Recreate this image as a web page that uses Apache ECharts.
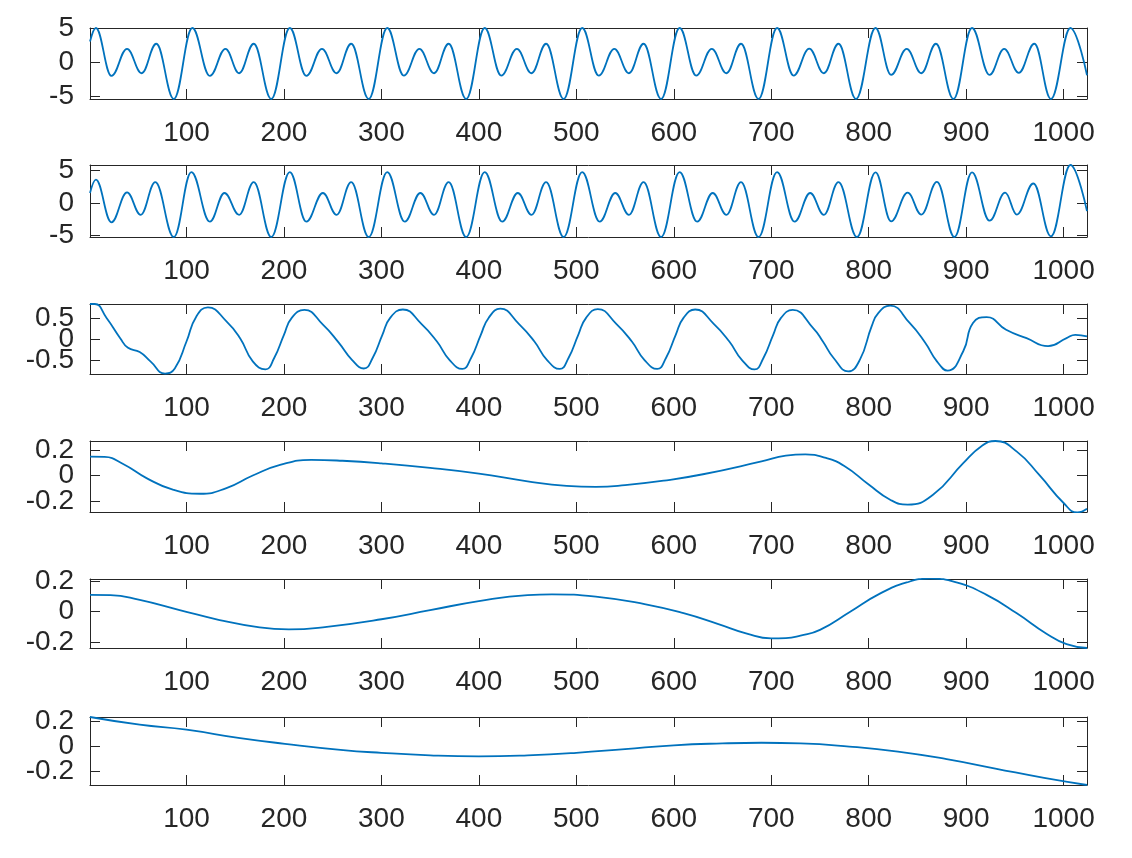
<!DOCTYPE html>
<html>
<head>
<meta charset="utf-8">
<title>IMF</title>
<script src="https://cdn.jsdelivr.net/npm/echarts@6.0.0/dist/echarts.min.js"></script>
<style>
    html, body {margin: 0; padding: 0; background: #fff;}
    #main {width: 1132px; height: 858px;}
</style>
</head>
<body>
<div id="main"></div>
<script>
// x range and ticks, shared by all six panels
var xStart = 1;
var xEnd = 1024;
var xTicks = [100, 200, 300, 400, 500, 600, 700, 800, 900, 1000];

// y limits and ticks of each panel (top to bottom)
var yMin = [-5.45, -5.2, -0.83, -0.284, -0.24, -0.306];
var yMax = [5.0, 5.84, 0.83, 0.269, 0.216, 0.235];
var yTicks = [[-5, 0, 5], [-5, 0, 5], [-0.5, 0, 0.5], [-0.2, 0, 0.2], [-0.2, 0, 0.2], [-0.2, 0, 0.2]];

// panel 1 : peaks and troughs
var imf1 = [
    [1, 3.0], [7, 5.0], [23, -2.05], [39, 1.94], [54, -1.66], [69, 2.68], [87, -5.45],
    [106, 5.0], [124, -2.05], [140, 1.94], [154, -1.66], [169, 2.68], [187, -5.45],
    [206, 5.0], [223, -2.05], [239, 1.94], [254, -1.66], [269, 2.68], [287, -5.45],
    [306, 5.0], [323, -2.0], [339, 1.94], [354, -1.66], [369, 2.68], [387, -5.45],
    [406, 5.0], [423, -2.0], [439, 1.94], [454, -1.66], [469, 2.68], [487, -5.45],
    [506, 5.0], [523, -2.0], [539, 1.94], [554, -1.66], [569, 2.68], [587, -5.45],
    [606, 5.0], [623, -2.0], [639, 1.94], [654, -1.66], [669, 2.68], [687, -5.45],
    [706, 5.0], [723, -2.0], [739, 1.96], [754, -1.66], [769, 2.68], [787, -5.45],
    [807, 5.0], [823, -1.9], [839, 1.94], [854, -1.66], [869, 2.68], [887, -5.45],
    [906, 5.0], [924, -1.9], [939, 1.94], [954, -1.6], [970, 2.68], [987, -5.45],
    [1007, 5.0], [1024, -1.95]
];
// panel 2
var imf2 = [
    [1, 1.55], [7, 3.6], [23, -2.95], [39, 1.65], [53, -1.8], [68, 3.2], [87, -5.2],
    [105, 4.75], [124, -2.85], [139, 1.55], [154, -1.8], [169, 3.2], [187, -5.2],
    [206, 4.75], [223, -2.85], [240, 1.55], [254, -1.8], [269, 3.2], [287, -5.2],
    [306, 4.75], [324, -2.85], [340, 1.55], [354, -1.8], [369, 3.2], [387, -5.2],
    [406, 4.75], [424, -2.85], [440, 1.55], [454, -1.8], [469, 3.2], [487, -5.2],
    [506, 4.75], [524, -2.85], [540, 1.55], [554, -1.8], [569, 3.2], [587, -5.2],
    [606, 4.75], [624, -2.85], [640, 1.55], [654, -1.8], [669, 3.2], [687, -5.2],
    [706, 4.75], [724, -2.85], [740, 1.55], [754, -1.8], [769, 3.2], [788, -5.2],
    [807, 4.7], [823, -2.8], [840, 1.6], [854, -1.76], [870, 3.25], [888, -5.2],
    [906, 4.7], [924, -2.7], [940, 1.6], [952, -1.76], [969, 3.0], [987, -5.1],
    [1007, 5.84], [1024, -1.24]
];
// panel 3
var imf3 = [
    [1, 0.83], [6, 0.83], [18, 0.5], [32, 0.02], [40, -0.21], [52, -0.31], [63, -0.53], [78, -0.82],
    [88, -0.7], [100, -0.06], [110, 0.53], [122, 0.75], [141, 0.42], [155, 0.02], [168, -0.53], [181, -0.72],
    [190, -0.45], [200, 0.1], [208, 0.5], [221, 0.69], [240, 0.34], [256, -0.08], [270, -0.5], [282, -0.7],
    [291, -0.45], [301, 0.1], [309, 0.5], [322, 0.7], [341, 0.36], [357, -0.06], [370, -0.5], [383, -0.71],
    [392, -0.45], [402, 0.1], [410, 0.5], [422, 0.72], [441, 0.36], [457, -0.06], [470, -0.5], [483, -0.71],
    [492, -0.45], [502, 0.1], [510, 0.5], [522, 0.71], [541, 0.36], [557, -0.06], [570, -0.5], [583, -0.71],
    [592, -0.45], [602, 0.1], [610, 0.5], [622, 0.7], [641, 0.36], [657, -0.06], [670, -0.5], [683, -0.72],
    [692, -0.45], [702, 0.1], [710, 0.5], [722, 0.69], [743, 0.26], [753, -0.06], [764, -0.45], [779, -0.77],
    [791, -0.49], [803, 0.3], [810, 0.62], [822, 0.79], [842, 0.38], [858, -0.09], [870, -0.53], [881, -0.75],
    [897, -0.29], [907, 0.38], [921, 0.52], [941, 0.22], [962, 0.02], [984, -0.17], [1003, 0.02], [1012, 0.1],
    [1024, 0.06]
];
// panel 4
var imf4 = [
    [1, 0.147], [16, 0.145], [35, 0.09], [59, -0.02], [86, -0.11], [114, -0.142], [141, -0.098],
    [168, 0.0], [196, 0.083], [228, 0.122], [260, 0.115], [300, 0.095], [350, 0.06], [400, 0.015],
    [450, -0.045], [490, -0.08], [520, -0.088], [550, -0.075], [590, -0.04], [630, 0.01], [690, 0.11],
    [715, 0.155], [735, 0.165], [755, 0.14], [775, 0.075], [800, -0.07], [822, -0.188], [840, -0.227],
    [866, -0.15], [897, 0.096], [916, 0.23], [930, 0.269], [952, 0.186], [975, 0.005], [1000, -0.214],
    [1014, -0.287], [1024, -0.258]
];
// panel 5
var imf5 = [
    [1, 0.111], [22, 0.11], [52, 0.078], [93, 0.011], [134, -0.055], [175, -0.104], [205, -0.117],
    [244, -0.1], [300, -0.05], [350, 0.01], [400, 0.07], [450, 0.11], [475, 0.115], [520, 0.1],
    [570, 0.05], [610, -0.01], [645, -0.08], [675, -0.145], [700, -0.177], [715, -0.175], [730, -0.158],
    [750, -0.12], [781, 0.0], [811, 0.118], [839, 0.193], [863, 0.218], [890, 0.193], [921, 0.111],
    [952, -0.011], [982, -0.144], [1003, -0.215], [1024, -0.24]
];
// panel 6 (residue)
var imf6 = [
    [1, 0.235], [52, 0.174], [100, 0.134], [155, 0.067], [201, 0.022], [258, -0.026], [300, -0.05],
    [350, -0.07], [400, -0.078], [450, -0.07], [500, -0.05], [550, -0.02], [600, 0.01], [650, 0.025],
    [690, 0.03], [730, 0.025], [780, 0.0], [830, -0.04], [880, -0.1], [930, -0.175], [980, -0.25],
    [1024, -0.306]
];

var panels = [imf1, imf2, imf3, imf4, imf5, imf6];

// layout of the six panels (pixels)
var gridTop = [28, 165, 304, 441, 579, 717];
var gridHeight = [71, 72, 70, 71, 69, 68];

var axisColor = '#262626';
var lineColor = '#0072BD';
var font = 'Liberation Sans, Arial, Helvetica, sans-serif';

var myChart = echarts.init(document.getElementById('main'), null, {renderer: 'canvas'});

var plainNum = function (v) {
    return String(v);
};

var labelStyle = function (values) {
    return {
        show: true, customValues: values, formatter: plainNum, hideOverlap: false,
        showMinLabel: true, showMaxLabel: true,
        margin: 16, fontSize: 28, color: axisColor, fontFamily: font
    };
};

var grids = [], xAxes = [], yAxes = [], series = [];
for (var i = 0; i < panels.length; i++) {
    grids.push({
        left: 90,
        right: 45,
        top: gridTop[i],
        height: gridHeight[i],
        containLabel: false
    });
    // bottom x axis with labels
    xAxes.push({
        gridIndex: i, type: 'value', position: 'bottom',
        min: xStart, max: xEnd,
        axisLine: {show: true, onZero: false, lineStyle: {color: axisColor, width: 1}},
        axisTick: {show: true, inside: true, length: 10, customValues: xTicks, lineStyle: {color: axisColor}},
        axisLabel: {show: true, customValues: xTicks, formatter: plainNum, hideOverlap: false,
            margin: 20, fontSize: 28, color: axisColor, fontFamily: font},
        splitLine: {show: false}
    });
    // top x axis, ticks only (box)
    xAxes.push({
        gridIndex: i, type: 'value', position: 'top',
        min: xStart, max: xEnd,
        axisLine: {show: true, onZero: false, lineStyle: {color: axisColor, width: 1}},
        axisTick: {show: true, inside: true, length: 10, customValues: xTicks, lineStyle: {color: axisColor}},
        axisLabel: {show: false},
        splitLine: {show: false}
    });
    // left y axis: outer labels (the middle one goes on its own axis, or echarts drops it)
    yAxes.push({
        gridIndex: i, type: 'value', position: 'left',
        min: yMin[i], max: yMax[i],
        axisLine: {show: true, onZero: false, lineStyle: {color: axisColor, width: 1}},
        axisTick: {show: true, inside: true, length: 10, customValues: yTicks[i], lineStyle: {color: axisColor}},
        axisLabel: labelStyle([yTicks[i][0], yTicks[i][2]]),
        splitLine: {show: false}
    });
    // right y axis, ticks only (box)
    yAxes.push({
        gridIndex: i, type: 'value', position: 'right',
        min: yMin[i], max: yMax[i],
        axisLine: {show: true, onZero: false, lineStyle: {color: axisColor, width: 1}},
        axisTick: {show: true, inside: true, length: 10, customValues: yTicks[i], lineStyle: {color: axisColor}},
        axisLabel: {show: false},
        splitLine: {show: false}
    });
    // second left axis carrying only the middle label
    yAxes.push({
        gridIndex: i, type: 'value', position: 'left', offset: 0,
        min: yMin[i], max: yMax[i],
        axisLine: {show: false},
        axisTick: {show: false},
        axisLabel: labelStyle([yTicks[i][1]]),
        splitLine: {show: false}
    });
    series.push({
        type: 'line',
        xAxisIndex: 2 * i,
        yAxisIndex: 3 * i,
        data: panels[i],
        showSymbol: false,
        // the first two panels are given as extrema only, so keep flat tangents there
        smooth: i < 2 ? 0.4 : 0.5,
        smoothMonotone: i < 2 ? 'x' : null,
        clip: true,
        lineStyle: {color: lineColor, width: 1.8},
        animation: false
    });
}

var option = {
    backgroundColor: '#ffffff',
    animation: false,
    grid: grids,
    xAxis: xAxes,
    yAxis: yAxes,
    series: series
};
myChart.setOption(option);
</script>
</body>
</html>
